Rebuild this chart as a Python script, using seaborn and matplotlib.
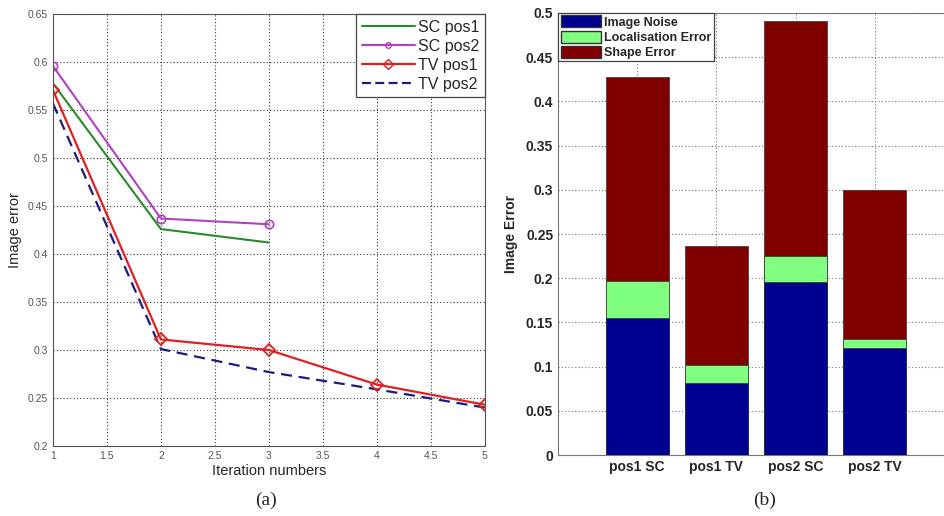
import matplotlib
matplotlib.use("Agg")
import matplotlib.pyplot as plt
import seaborn as sns
import pandas as pd
from matplotlib.lines import Line2D
from matplotlib.patches import Patch

sns.set_style("white")
plt.rcParams['font.family'] = ['Liberation Sans', 'DejaVu Sans']

# ---- data (a) ----
iters_sc = [1, 2, 3]
sc_pos1 = [0.578, 0.426, 0.412]
sc_pos2 = [0.596, 0.437, 0.431]
iters_tv = [1, 2, 3, 4, 5]
tv_pos1 = [0.571, 0.311, 0.300, 0.264, 0.243]
tv_pos2 = [0.557, 0.301, 0.277, 0.259, 0.240]

# ---- data (b) ----
bar_cats = ["pos1 SC", "pos1 TV", "pos2 SC", "pos2 TV"]
image_noise = [0.155, 0.081, 0.196, 0.121]
loc_error = [0.042, 0.021, 0.029, 0.010]
shape_error = [0.231, 0.135, 0.266, 0.169]

fig = plt.figure(figsize=(9.45, 5.16), dpi=100)
ax1 = fig.add_axes([0.056, 0.1357, 0.457, 0.837])
ax2 = fig.add_axes([0.5905, 0.118, 0.419, 0.857])

# ---- left plot ----
c_green = "#2a8a2a"
c_mag = "#b040c0"
c_red = "#e02020"
c_navy = "#1c1c80"
sns.lineplot(x=iters_sc, y=sc_pos1, ax=ax1, color=c_green, lw=1.5)
sns.lineplot(x=iters_sc, y=sc_pos2, ax=ax1, color=c_mag, lw=1.5, marker="o",
             markersize=6, markerfacecolor="none", markeredgecolor=c_mag, markeredgewidth=1.2)
sns.lineplot(x=iters_tv, y=tv_pos2, ax=ax1, color=c_navy, lw=1.6, linestyle=(0, (5, 3)))
sns.lineplot(x=iters_tv, y=tv_pos1, ax=ax1, color=c_red, lw=1.6, marker="D",
             markersize=6, markerfacecolor="none", markeredgecolor=c_red, markeredgewidth=1.3)
ax1.set_xlim(1, 5)
ax1.set_ylim(0.2, 0.65)
ax1.set_xticks([1, 1.5, 2, 2.5, 3, 3.5, 4, 4.5, 5])
ax1.set_xticklabels(["1", "1.5", "2", "2.5", "3", "3.5", "4", "4.5", "5"])
ax1.set_yticks([0.2, 0.25, 0.3, 0.35, 0.4, 0.45, 0.5, 0.55, 0.6, 0.65])
ax1.set_yticklabels(["0.2", "0.25", "0.3", "0.35", "0.4", "0.45", "0.5", "0.55", "0.6", "0.65"])
ax1.tick_params(direction="in", labelsize=7.5, labelcolor="#555555", length=3, color="#444444")
ax1.grid(True, linestyle=(0, (1, 2)), color="#333333", lw=0.8)
for s in ax1.spines.values():
    s.set_color("#555555")
ax1.set_xlabel("Iteration numbers", fontsize=10.5, labelpad=2)
ax1.set_ylabel("Image error", fontsize=10.5, labelpad=4)
handles1 = [
    Line2D([], [], color=c_green, lw=1.5),
    Line2D([], [], color=c_mag, lw=1.5, marker="o", markerfacecolor="none", markersize=4),
    Line2D([], [], color=c_red, lw=1.6, marker="D", markerfacecolor="none", markersize=5),
    Line2D([], [], color=c_navy, lw=1.6, linestyle=(0, (4, 2))),
]
leg1 = ax1.legend(handles1, ["SC pos1", "SC pos2", "TV pos1", "TV pos2"], loc="upper right",
                  fontsize=11.5, frameon=True, fancybox=False, edgecolor="#444444",
                  borderaxespad=0.0, handlelength=3.3, labelspacing=0.25, borderpad=0.35,
                  handletextpad=0.2, framealpha=1)
leg1.get_frame().set_linewidth(0.9)

# ---- right plot (stacked bars via overlaid cumulative totals) ----
df = pd.DataFrame({"cat": bar_cats, "noise": image_noise, "loc": loc_error, "shape": shape_error})
df["lvl2"] = df["noise"] + df["loc"]
df["lvl3"] = df["lvl2"] + df["shape"]
c_b_navy = "#000090"
c_b_green = "#80ff80"
c_b_red = "#800000"
sns.barplot(data=df, x="cat", y="lvl3", ax=ax2, color=c_b_red, saturation=1, width=0.8,
            edgecolor="#333333", linewidth=0.5, zorder=3)
sns.barplot(data=df, x="cat", y="lvl2", ax=ax2, color=c_b_green, saturation=1, width=0.8,
            edgecolor="#333333", linewidth=0.5, zorder=3)
sns.barplot(data=df, x="cat", y="noise", ax=ax2, color=c_b_navy, saturation=1, width=0.8,
            edgecolor="#333333", linewidth=0.5, zorder=3)
ax2.set_xlim(-1, 4)
ax2.set_ylim(0, 0.5)
ax2.set_xticks([0, 1, 2, 3])
ax2.set_xticklabels(bar_cats)
ax2.set_yticks([0, 0.05, 0.1, 0.15, 0.2, 0.25, 0.3, 0.35, 0.4, 0.45, 0.5])
ax2.set_yticklabels(["0", "0.05", "0.1", "0.15", "0.2", "0.25", "0.3", "0.35", "0.4", "0.45", "0.5"])
ax2.tick_params(labelsize=10, length=3, direction="in", color="#444444")
for lab in ax2.get_xticklabels() + ax2.get_yticklabels():
    lab.set_fontweight("bold")
ax2.grid(True, linestyle=(0, (1, 2)), color="#777777", lw=0.8, zorder=0)
ax2.set_axisbelow(True)
for s in ax2.spines.values():
    s.set_color("#777777")
ax2.spines["right"].set_visible(False)
ax2.set_xlabel("")
ax2.set_ylabel("Image Error", fontsize=10, fontweight="bold", labelpad=6)
handles2 = [Patch(facecolor=c_b_navy, edgecolor="#333333"),
            Patch(facecolor=c_b_green, edgecolor="#333333"),
            Patch(facecolor=c_b_red, edgecolor="#333333")]
leg2 = ax2.legend(handles2, ["Image Noise", "Localisation Error", "Shape Error"], loc="upper left",
                  prop={"size": 9, "weight": "bold"}, frameon=True, fancybox=False,
                  edgecolor="#444444", borderaxespad=0.0, handlelength=3.2, handleheight=1.1,
                  labelspacing=0.15, borderpad=0.2, handletextpad=0.3, framealpha=1)
leg2.get_frame().set_linewidth(0.9)

# captions
fig.text(0.282, 0.03, "(a)", ha="center", va="center", fontsize=14, family="Liberation Serif")
fig.text(0.809, 0.03, "(b)", ha="center", va="center", fontsize=14, family="Liberation Serif")

fig.savefig("out.png", dpi=100)
